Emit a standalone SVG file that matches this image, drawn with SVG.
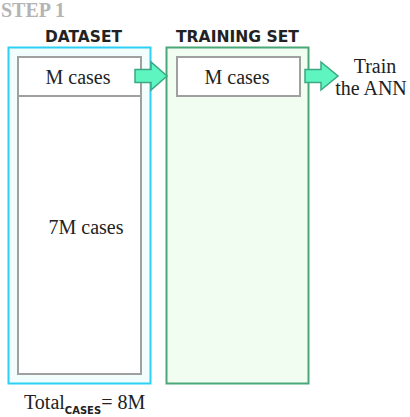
<svg xmlns="http://www.w3.org/2000/svg" width="410" height="417" viewBox="0 0 410 417">
<style>
.serif{font-family:"Liberation Serif","Times New Roman",serif;fill:#222}
.hdr{font-family:"DejaVu Sans",Tahoma,sans-serif;font-weight:bold;font-size:15.5px;fill:#222}
.inner{fill:#fff;stroke:#a0a0a0;stroke-width:2}
.arrow{fill:#5ff5c0;stroke:#3aa882;stroke-width:1.5}
</style>
<text x="1" y="17" font-family="Liberation Serif,serif" font-weight="bold" font-size="20" fill="#b4b4b4">STEP 1</text>
<g id="dataset">
<rect x="8.5" y="47.5" width="142" height="336" fill="#f2fdfe" stroke="#2cd0f3" stroke-width="2"/>
<text class="hdr" x="45" y="42" textLength="77" lengthAdjust="spacingAndGlyphs">DATASET</text>
<rect class="inner" x="18" y="57" width="123" height="39"/>
<rect class="inner" x="18" y="96" width="123" height="278"/>
<text class="serif" x="78" y="84" font-size="20" text-anchor="middle">M cases</text>
<text class="serif" x="86" y="234" font-size="20" text-anchor="middle">7M cases</text>
</g>
<g id="training">
<rect x="166.5" y="47.5" width="142" height="336" fill="#f0fdf0" stroke="#4aa878" stroke-width="2"/>
<text class="hdr" x="176" y="42" textLength="123" lengthAdjust="spacingAndGlyphs">TRAINING SET</text>
<rect class="inner" x="177" y="57" width="123" height="39"/>
<text class="serif" x="237" y="84" font-size="20" text-anchor="middle">M cases</text>
</g>
<g id="ann">
<text class="serif" x="375" y="73" font-size="20" text-anchor="middle">Train</text>
<text class="serif" x="371" y="95" font-size="20" text-anchor="middle">the ANN</text>
</g>
<g id="connectors">
<path class="arrow" d="M135,69.5 H151 V62 L167,76 L151,90 V82.5 H135 Z"/>
<path class="arrow" d="M305,69.5 H321 V62 L338,76 L321,90 V82.5 H305 Z"/>
</g>
<g id="total">
<text class="serif" x="24" y="409" font-size="20">Total<tspan font-family="DejaVu Sans,sans-serif" font-weight="bold" font-size="10" dy="5">CASES</tspan><tspan dy="-5">= 8M</tspan></text>
</g>
</svg>
